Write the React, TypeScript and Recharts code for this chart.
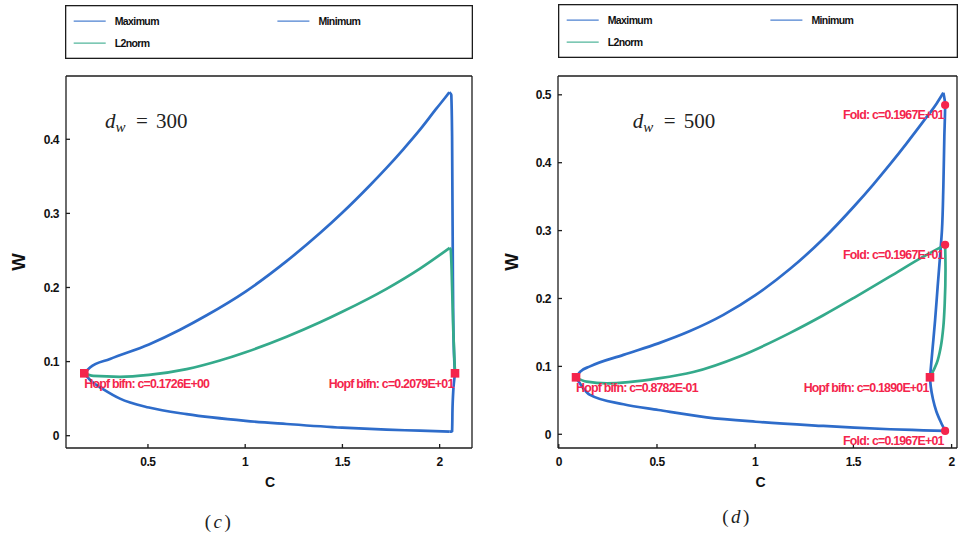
import React from 'react';
import { ComposedChart, Line, Scatter, XAxis, YAxis, Label } from 'recharts';

// ---- d_w = 300 branch of periodic orbits ----
// Each measure is split where the branch turns: the part that advances in c,
// and the steep part near the right Hopf point (listed in increasing W).
const c300MaxRun = [0.1726, 0.202, 0.305, 0.505, 0.665, 0.802, 1.002, 1.213, 1.385, 1.499, 1.642, 1.727, 1.813, 1.899, 1.985, 2.028, 2.05];
const w300MaxRun = [0.0842, 0.092, 0.1036, 0.1232, 0.143, 0.1625, 0.1945, 0.2356, 0.2734, 0.3008, 0.338, 0.3614, 0.3865, 0.413, 0.442, 0.456, 0.4635];
const c300MaxTurn = [2.079, 2.076, 2.07, 2.067, 2.064, 2.06, 2.05];
const w300MaxTurn = [0.0842, 0.098, 0.156, 0.269, 0.404, 0.46, 0.4635];
const c300MinRun = [0.1726, 0.211, 0.271, 0.356, 0.505, 0.699, 1.002, 1.213, 1.499, 1.727, 1.899, 2.052];
const w300MinRun = [0.0842, 0.073, 0.0625, 0.05, 0.038, 0.029, 0.02, 0.0158, 0.0108, 0.0081, 0.0068, 0.0054];
const c300MinTurn = [2.052, 2.064, 2.067, 2.073, 2.079];
const w300MinTurn = [0.0054, 0.0059, 0.0437, 0.0707, 0.0842];
const c300L2Run = [0.1726, 0.219, 0.356, 0.505, 0.699, 0.87, 1.002, 1.213, 1.385, 1.499, 1.727, 1.899, 2.052];
const w300L2Run = [0.0842, 0.0806, 0.0795, 0.082, 0.0898, 0.1014, 0.1126, 0.1335, 0.153, 0.1672, 0.1982, 0.2255, 0.2535];
const c300L2Turn = [2.079, 2.076, 2.07, 2.064, 2.057, 2.052];
const w300L2Turn = [0.0842, 0.102, 0.143, 0.201, 0.251, 0.2535];
const hopf300C = [0.1726, 2.079];
const hopf300W = [0.0842, 0.0842];

// ---- d_w = 500 branch of periodic orbits ----
const c500MaxRun = [0.08782, 0.108, 0.159, 0.329, 0.507, 0.665, 0.838, 1.003, 1.178, 1.347, 1.505, 1.602, 1.687, 1.771, 1.856, 1.924, 1.958];
const w500MaxRun = [0.0839, 0.092, 0.1, 0.117, 0.1339, 0.1516, 0.1758, 0.2052, 0.2437, 0.288, 0.3362, 0.3682, 0.3978, 0.4285, 0.4608, 0.4873, 0.503];
const c500MaxTurn = [1.89, 1.904, 1.916, 1.929, 1.941, 1.951, 1.958, 1.963, 1.967, 1.958];
const w500MaxTurn = [0.0839, 0.129, 0.168, 0.2174, 0.2615, 0.301, 0.3646, 0.438, 0.485, 0.503];
const c500MinRun = [0.08782, 0.125, 0.159, 0.329, 0.507, 0.753, 1.003, 1.347, 1.505, 1.687, 1.856, 1.967];
const w500MinRun = [0.0839, 0.0677, 0.058, 0.0442, 0.0358, 0.025, 0.0185, 0.0123, 0.0098, 0.0074, 0.0059, 0.0049];
const c500MinTurn = [1.967, 1.945, 1.922, 1.905, 1.894, 1.89];
const w500MinTurn = [0.0049, 0.018, 0.034, 0.052, 0.07, 0.0839];
const c500L2Run = [0.08782, 0.142, 0.244, 0.507, 0.685, 0.923, 1.178, 1.347, 1.505, 1.687, 1.856, 1.967];
const w500L2Run = [0.0839, 0.0775, 0.0751, 0.0824, 0.0917, 0.115, 0.1494, 0.1753, 0.2014, 0.2325, 0.2616, 0.279];
const c500L2Turn = [1.89, 1.899, 1.924, 1.945, 1.958, 1.965, 1.969, 1.967];
const w500L2Turn = [0.0839, 0.0888, 0.1045, 0.129, 0.1585, 0.193, 0.242, 0.279];
const hopf500C = [0.08782, 1.89];
const hopf500W = [0.0839, 0.0839];
const fold500C = [1.967, 1.967, 1.967];
const fold500W = [0.485, 0.279, 0.0049];

// ---- axes ----
const xTicks300 = [0.5, 1, 1.5, 2];
const yTicks300 = [0, 0.1, 0.2, 0.3, 0.4];
const xTicks500 = [0, 0.5, 1, 1.5, 2];
const yTicks500 = [0, 0.1, 0.2, 0.3, 0.4, 0.5];
const xDomain300 = [0.0785, 2.1664];
const yDomain300 = [-0.0166, 0.4854];
const xDomain500 = [-0.004, 2.0275];
const yDomain500 = [-0.0202, 0.5277];

const seriesNames = ['Maximum', 'Minimum', 'L2norm'];

const BLUE = '#2e6cca';
const GREEN = '#34aa8b';
const RED = '#f4254c';
const FRAME = '#1c1c1c';
const SANS = '"Liberation Sans", Arial, sans-serif';
const SERIF = '"Liberation Serif", "Times New Roman", serif';

type Pt = { c: number; w: number };
type Segment = { pts: Pt[]; curve: 'monotoneX' | 'monotoneY' };
type Series = { name: string; color: string; segments: Segment[] };

const zip = (cs: number[], ws: number[]): Pt[] => cs.map((c, i) => ({ c, w: ws[i] }));

const measure = (name: string, color: string, runC: number[], runW: number[], turnC: number[], turnW: number[]): Series => ({
  name,
  color,
  segments: [
    { pts: zip(runC, runW), curve: 'monotoneX' },
    { pts: zip(turnC, turnW), curve: 'monotoneY' },
  ],
});

// AUTO-style mantissa/exponent notation, e.g. 0.1726E+00
const fortranE = (v: number) => {
  const e = Math.floor(Math.log10(Math.abs(v))) + 1;
  const m = v / Math.pow(10, e);
  const sign = e < 0 ? '-' : '+';
  return `${m.toFixed(4)}E${sign}${String(Math.abs(e)).padStart(2, '0')}`;
};

const tickStyle: React.CSSProperties = {
  fontFamily: SANS,
  fontWeight: 700,
  fontSize: 12,
  letterSpacing: -0.5,
};

const XTick = (p: any) => (
  <text x={p.x} y={p.y + 17.5} textAnchor="middle" fill="#111" style={tickStyle}>
    {String(p.payload.value)}
  </text>
);

const YTick = (p: any) => (
  <text x={p.x - 7} y={p.y + 4.3} textAnchor="end" fill="#111" style={tickStyle}>
    {String(p.payload.value)}
  </text>
);

const makeMarker = (kind: 'hopf' | 'fold', mid: number) => (p: any) => {
  const { cx, cy, payload } = p;
  if (cx == null || cy == null) return <g />;
  const right = payload.c > mid;
  const text = `${kind === 'hopf' ? 'Hopf bifn' : 'Fold'}: c=${fortranE(payload.c)}`;
  return (
    <g>
      {kind === 'hopf' ? (
        <rect x={cx - 4.3} y={cy - 4.3} width={8.6} height={8.6} fill={RED} />
      ) : (
        <circle cx={cx} cy={cy} r={4.1} fill={RED} />
      )}
      <text
        x={right ? cx - 1.5 : cx}
        y={cy + 14.5}
        textAnchor={right ? 'end' : 'start'}
        fill={RED}
        style={{ fontFamily: SANS, fontWeight: 700, fontSize: 12.4, letterSpacing: -0.8 }}
      >
        {text}
      </text>
    </g>
  );
};

type PanelProps = {
  left: number;
  yAxisWidth: number;
  rightMargin: number;
  xDomain: number[];
  yDomain: number[];
  xTicks: number[];
  yTicks: number[];
  series: Series[];
  hopf: Pt[];
  fold: Pt[];
  yLabelX: number;
  xLabelShift: number;
};

const Panel = (props: PanelProps) => {
  const mid = (props.xDomain[0] + props.xDomain[1]) / 2;
  const axisLine = { stroke: FRAME, strokeWidth: 1.3 };
  return (
    <div style={{ position: 'absolute', left: props.left, top: 0 }}>
      <ComposedChart
        width={480}
        height={500}
        margin={{ top: 75, right: props.rightMargin, bottom: 0, left: 0 }}
      >
        <XAxis
          xAxisId="b"
          dataKey="c"
          type="number"
          domain={props.xDomain}
          ticks={props.xTicks}
          allowDataOverflow
          height={52}
          tickSize={-4}
          tickMargin={4}
          axisLine={axisLine}
          tickLine={axisLine}
          tick={XTick}
        >
          <Label
            content={(lp: any) => {
              const vb = lp.viewBox || { x: 0, y: 0, width: 0 };
              return (
                <text
                  x={vb.x + vb.width / 2 + props.xLabelShift}
                  y={vb.y + 38.7}
                  textAnchor="middle"
                  fill="#111"
                  style={{ fontFamily: SANS, fontWeight: 700, fontSize: 14 }}
                >
                  C
                </text>
              );
            }}
          />
        </XAxis>
        <XAxis
          xAxisId="t"
          orientation="top"
          type="number"
          domain={props.xDomain}
          ticks={props.xTicks}
          allowDataOverflow
          height={1}
          tickSize={-4}
          axisLine={axisLine}
          tickLine={axisLine}
          tick={false}
        />
        <YAxis
          yAxisId="l"
          dataKey="w"
          type="number"
          domain={props.yDomain}
          ticks={props.yTicks}
          allowDataOverflow
          width={props.yAxisWidth}
          tickSize={-4}
          tickMargin={4}
          axisLine={axisLine}
          tickLine={axisLine}
          tick={YTick}
        >
          <Label
            content={(lp: any) => {
              const vb = lp.viewBox || { x: 0, y: 0, height: 0 };
              const cx = props.yLabelX;
              const cy = vb.y + vb.height / 2;
              return (
                <text
                  x={cx}
                  y={cy}
                  transform={`rotate(-90 ${cx} ${cy})`}
                  textAnchor="middle"
                  fill="#111"
                  style={{ fontFamily: SANS, fontWeight: 700, fontSize: 18.5 }}
                >
                  W
                </text>
              );
            }}
          />
        </YAxis>
        <YAxis
          yAxisId="r"
          orientation="right"
          type="number"
          domain={props.yDomain}
          ticks={props.yTicks}
          allowDataOverflow
          width={1}
          tickSize={-4}
          axisLine={axisLine}
          tickLine={axisLine}
          tick={false}
        />
        {props.series.flatMap((s) =>
          s.segments.map((seg, j) => (
            <Line
              key={`${s.name}-${j}`}
              xAxisId="b"
              yAxisId="l"
              data={seg.pts}
              dataKey="w"
              name={s.name}
              stroke={s.color}
              strokeWidth={2.7}
              strokeLinejoin="round"
              dot={false}
              activeDot={false}
              type={seg.curve}
              isAnimationActive={false}
            />
          ))
        )}
        <Scatter
          xAxisId="b"
          yAxisId="l"
          data={props.hopf}
          dataKey="w"
          shape={makeMarker('hopf', mid)}
          isAnimationActive={false}
        />
        {props.fold.length > 0 && (
          <Scatter
            xAxisId="b"
            yAxisId="l"
            data={props.fold}
            dataKey="w"
            shape={makeMarker('fold', mid)}
            isAnimationActive={false}
          />
        )}
      </ComposedChart>
    </div>
  );
};

const LegendBox = ({ left, top, width, height }: { left: number; top: number; width: number; height: number }) => {
  const items = [
    { name: seriesNames[0], color: BLUE, x: 8.7, y: 16.2 },
    { name: seriesNames[1], color: BLUE, x: 212.4, y: 16.2 },
    { name: seriesNames[2], color: GREEN, x: 8.7, y: 38.2 },
  ];
  return (
    <svg style={{ position: 'absolute', left, top }} width={width} height={height}>
      <rect x={0.65} y={0.65} width={width - 1.3} height={height - 1.3} fill="#fff" stroke={FRAME} strokeWidth={1.3} />
      {items.map((it) => (
        <g key={it.name}>
          <line x1={it.x} x2={it.x + 32} y1={it.y} y2={it.y} stroke={it.color} strokeWidth={1.3} opacity={0.85} />
          <text
            x={it.x + 41}
            y={it.y + 3.8}
            fill="#111"
            style={{ fontFamily: SANS, fontWeight: 700, fontSize: 10.5, letterSpacing: -0.6 }}
          >
            {it.name}
          </text>
        </g>
      ))}
    </svg>
  );
};

const DwNote = ({ x, value }: { x: number; value: number }) => (
  <text x={x} y={128.3} fill="#222" style={{ fontFamily: SERIF, fontSize: 21 }}>
    <tspan fontStyle="italic">d</tspan>
    <tspan fontStyle="italic" fontSize={15} dy={3.5}>w</tspan>
    <tspan x={x + 31} dy={-3.5}>=</tspan>
    <tspan x={x + 51}>{value}</tspan>
  </text>
);

const series300: Series[] = [
  measure(seriesNames[0], BLUE, c300MaxRun, w300MaxRun, c300MaxTurn, w300MaxTurn),
  measure(seriesNames[1], BLUE, c300MinRun, w300MinRun, c300MinTurn, w300MinTurn),
  measure(seriesNames[2], GREEN, c300L2Run, w300L2Run, c300L2Turn, w300L2Turn),
];

const series500: Series[] = [
  measure(seriesNames[0], BLUE, c500MaxRun, w500MaxRun, c500MaxTurn, w500MaxTurn),
  measure(seriesNames[1], BLUE, c500MinRun, w500MinRun, c500MinTurn, w500MinTurn),
  measure(seriesNames[2], GREEN, c500L2Run, w500L2Run, c500L2Turn, w500L2Turn),
];

export default function App() {
  return (
    <div
      style={{
        position: 'absolute',
        left: 0,
        top: 0,
        width: 958,
        height: 540,
        overflow: 'hidden',
        background: '#fff',
      }}
    >
      <LegendBox left={65} top={4.5} width={408} height={54} />
      <LegendBox left={557.5} top={4} width={400} height={54} />
      <Panel
        left={0}
        yAxisWidth={66}
        rightMargin={7}
        xDomain={xDomain300}
        yDomain={yDomain300}
        xTicks={xTicks300}
        yTicks={yTicks300}
        series={series300}
        hopf={zip(hopf300C, hopf300W)}
        fold={[]}
        yLabelX={25}
        xLabelShift={1}
      />
      <Panel
        left={490}
        yAxisWidth={68}
        rightMargin={12}
        xDomain={xDomain500}
        yDomain={yDomain500}
        xTicks={xTicks500}
        yTicks={yTicks500}
        series={series500}
        hopf={zip(hopf500C, hopf500W)}
        fold={zip(fold500C, fold500W)}
        yLabelX={28.3}
        xLabelShift={3}
      />
      <svg style={{ position: 'absolute', left: 0, top: 0, pointerEvents: 'none' }} width={958} height={540}>
        <DwNote x={105} value={300} />
        <DwNote x={632.7} value={500} />
        <text x={219} y={528} textAnchor="middle" fill="#222" style={{ fontFamily: SERIF, fontSize: 19, letterSpacing: 2.5 }}>
          (<tspan fontStyle="italic">c</tspan>)
        </text>
        <text x={737} y={523} textAnchor="middle" fill="#222" style={{ fontFamily: SERIF, fontSize: 19, letterSpacing: 2.5 }}>
          (<tspan fontStyle="italic">d</tspan>)
        </text>
      </svg>
    </div>
  );
}
